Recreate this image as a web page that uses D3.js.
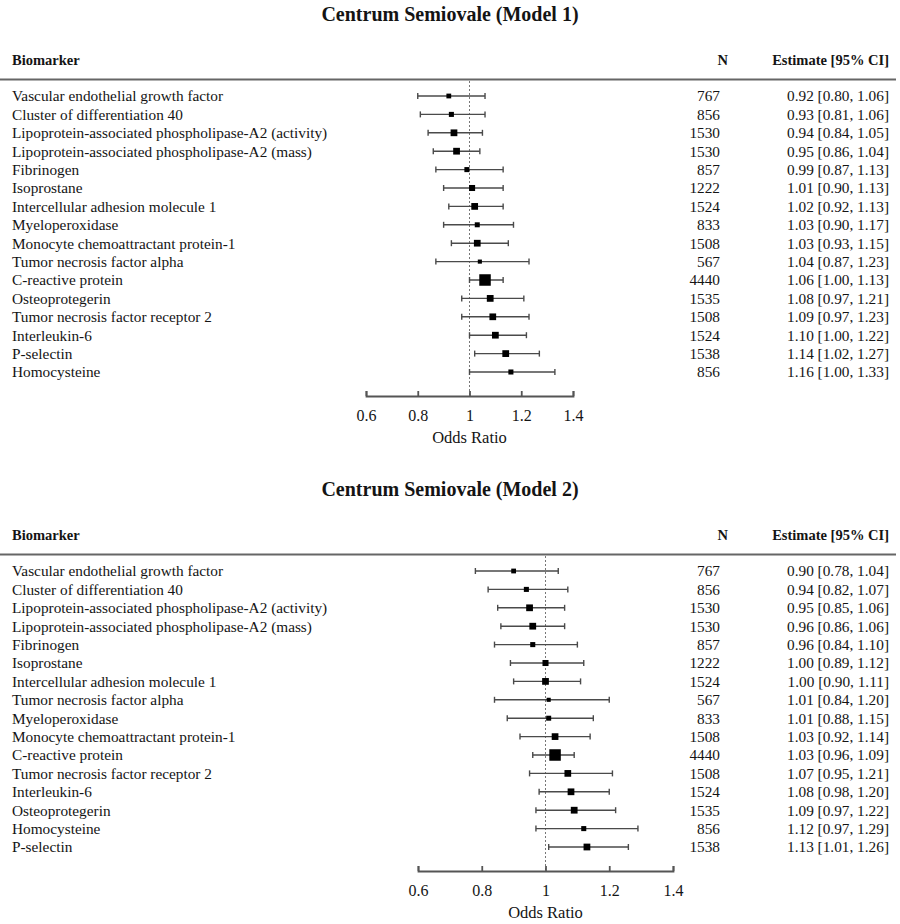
<!DOCTYPE html>
<html>
<head>
<meta charset="utf-8">
<script src="https://cdn.jsdelivr.net/npm/d3@7"></script>
<style>
  html, body { margin: 0; padding: 0; background: #fff; }
  svg { display: block; font-family: "Liberation Serif", "Times New Roman", serif; }
</style>
</head>
<body>
<svg id="chart" width="900" height="924"></svg>
<script>
// ---------- DATA ----------
const titles = ["Centrum Semiovale (Model 1)", "Centrum Semiovale (Model 2)"];
const headerLabels = ["Biomarker", "N", "Estimate [95% CI]"];
const axisTitle = "Odds Ratio";
const tickValues = [0.6, 0.8, 1, 1.2, 1.4];
const tickLabels = ["0.6", "0.8", "1", "1.2", "1.4"];

const labels1 = ["Vascular endothelial growth factor", "Cluster of differentiation 40",
  "Lipoprotein-associated phospholipase-A2 (activity)", "Lipoprotein-associated phospholipase-A2 (mass)",
  "Fibrinogen", "Isoprostane", "Intercellular adhesion molecule 1", "Myeloperoxidase",
  "Monocyte chemoattractant protein-1", "Tumor necrosis factor alpha", "C-reactive protein",
  "Osteoprotegerin", "Tumor necrosis factor receptor 2", "Interleukin-6", "P-selectin", "Homocysteine"];
const n1   = [767, 856, 1530, 1530, 857, 1222, 1524, 833, 1508, 567, 4440, 1535, 1508, 1524, 1538, 856];
const est1 = [0.92, 0.93, 0.94, 0.95, 0.99, 1.01, 1.02, 1.03, 1.03, 1.04, 1.06, 1.08, 1.09, 1.10, 1.14, 1.16];
const lo1  = [0.80, 0.81, 0.84, 0.86, 0.87, 0.90, 0.92, 0.90, 0.93, 0.87, 1.00, 0.97, 0.97, 1.00, 1.02, 1.00];
const hi1  = [1.06, 1.06, 1.05, 1.04, 1.13, 1.13, 1.13, 1.17, 1.15, 1.23, 1.13, 1.21, 1.23, 1.22, 1.27, 1.33];

const labels2 = ["Vascular endothelial growth factor", "Cluster of differentiation 40",
  "Lipoprotein-associated phospholipase-A2 (activity)", "Lipoprotein-associated phospholipase-A2 (mass)",
  "Fibrinogen", "Isoprostane", "Intercellular adhesion molecule 1", "Tumor necrosis factor alpha",
  "Myeloperoxidase", "Monocyte chemoattractant protein-1", "C-reactive protein",
  "Tumor necrosis factor receptor 2", "Interleukin-6", "Osteoprotegerin", "Homocysteine", "P-selectin"];
const n2   = [767, 856, 1530, 1530, 857, 1222, 1524, 567, 833, 1508, 4440, 1508, 1524, 1535, 856, 1538];
const est2 = [0.90, 0.94, 0.95, 0.96, 0.96, 1.00, 1.00, 1.01, 1.01, 1.03, 1.03, 1.07, 1.08, 1.09, 1.12, 1.13];
const lo2  = [0.78, 0.82, 0.85, 0.86, 0.84, 0.89, 0.90, 0.84, 0.88, 0.92, 0.96, 0.95, 0.98, 0.97, 0.97, 1.01];
const hi2  = [1.04, 1.07, 1.06, 1.06, 1.10, 1.12, 1.11, 1.20, 1.15, 1.14, 1.09, 1.21, 1.20, 1.22, 1.29, 1.26];

// ---------- LAYOUT ----------
const svg = d3.select("#chart");
const textColor = "#141414";
const sizeScale = d3.scaleSqrt().domain([0, 4440]).range([0, 11.5]);

const panels = [
  { title: titles[0], labels: labels1, n: n1, est: est1, lo: lo1, hi: hi1, top: 0,   xr: [366, 573] },
  { title: titles[1], labels: labels2, n: n2, est: est2, lo: lo2, hi: hi2, top: 475, xr: [418, 673] }
];

panels.forEach(p => {
  const g = svg.append("g").attr("transform", `translate(0,${p.top})`);
  const x = d3.scaleLinear().domain([0.6, 1.4]).range(p.xr);
  const idx = d3.range(p.labels.length);
  const y = d3.scalePoint().domain(idx).range([96, 96 + 18.4 * (idx.length - 1)]);
  const axisY = y(idx[idx.length - 1]) + 24;

  // title
  g.append("text").attr("x", 450).attr("y", 14).attr("dy", "0.35em")
    .attr("text-anchor", "middle").attr("font-size", 20).attr("font-weight", "bold")
    .attr("fill", textColor).text(p.title);

  // headers
  g.append("text").attr("x", 12).attr("y", 60).attr("dy", "0.35em")
    .attr("font-size", 14.5).attr("font-weight", "bold").attr("fill", textColor).text(headerLabels[0]);
  g.append("text").attr("x", 728).attr("y", 60).attr("dy", "0.35em").attr("text-anchor", "end")
    .attr("font-size", 14.5).attr("font-weight", "bold").attr("fill", textColor).text(headerLabels[1]);
  g.append("text").attr("x", 889).attr("y", 60).attr("dy", "0.35em").attr("text-anchor", "end")
    .attr("font-size", 14.5).attr("font-weight", "bold").attr("fill", textColor).text(headerLabels[2]);

  // header rule
  g.append("line").attr("x1", 0).attr("x2", 896).attr("y1", 79.5).attr("y2", 79.5)
    .attr("stroke", "#666").attr("stroke-width", 2);

  // reference line at 1
  g.append("line").attr("x1", x(1)).attr("x2", x(1)).attr("y1", 81).attr("y2", axisY)
    .attr("stroke", "#777").attr("stroke-width", 1).attr("stroke-dasharray", "2,2");

  // rows
  const rows = g.selectAll("g.row").data(idx).join("g").attr("class", "row");
  rows.append("text").attr("x", 12).attr("y", i => y(i)).attr("dy", "0.35em")
    .attr("font-size", 15.3).attr("fill", textColor).text(i => p.labels[i]);
  rows.append("text").attr("x", 720).attr("y", i => y(i)).attr("dy", "0.35em").attr("text-anchor", "end")
    .attr("font-size", 15.3).attr("fill", textColor).text(i => p.n[i]);
  rows.append("text").attr("x", 889).attr("y", i => y(i)).attr("dy", "0.35em").attr("text-anchor", "end")
    .attr("font-size", 15.3).attr("fill", textColor)
    .text(i => `${p.est[i].toFixed(2)} [${p.lo[i].toFixed(2)}, ${p.hi[i].toFixed(2)}]`);

  // CI lines and caps
  rows.append("line").attr("x1", i => x(p.lo[i])).attr("x2", i => x(p.hi[i]))
    .attr("y1", i => y(i)).attr("y2", i => y(i)).attr("stroke", "#4a4a4a").attr("stroke-width", 1.4);
  rows.append("line").attr("x1", i => x(p.lo[i])).attr("x2", i => x(p.lo[i]))
    .attr("y1", i => y(i) - 3).attr("y2", i => y(i) + 3).attr("stroke", "#4a4a4a").attr("stroke-width", 1.4);
  rows.append("line").attr("x1", i => x(p.hi[i])).attr("x2", i => x(p.hi[i]))
    .attr("y1", i => y(i) - 3).attr("y2", i => y(i) + 3).attr("stroke", "#4a4a4a").attr("stroke-width", 1.4);

  // point estimate squares
  rows.append("rect")
    .attr("x", i => x(p.est[i]) - sizeScale(p.n[i]) / 2)
    .attr("y", i => y(i) - sizeScale(p.n[i]) / 2)
    .attr("width", i => sizeScale(p.n[i]))
    .attr("height", i => sizeScale(p.n[i]))
    .attr("fill", "#000");

  // axis
  const axis = d3.axisBottom(x).tickValues(tickValues)
    .tickFormat((d, i) => tickLabels[i])
    .tickSizeInner(-5).tickSizeOuter(-5).tickPadding(14);
  const ag = g.append("g").attr("transform", `translate(0,${axisY})`).call(axis);
  ag.select(".domain").attr("stroke", "#555").attr("stroke-width", 1.8);
  ag.selectAll(".tick line").attr("stroke", "#555").attr("stroke-width", 1.8);
  ag.selectAll(".tick text").attr("font-size", 16).attr("fill", textColor)
    .attr("font-family", "Liberation Serif, Times New Roman, serif");

  g.append("text").attr("x", x(1)).attr("y", axisY + 41).attr("dy", "0.35em")
    .attr("text-anchor", "middle").attr("font-size", 16.5).attr("fill", textColor).text(axisTitle);
});
</script>
</body>
</html>
